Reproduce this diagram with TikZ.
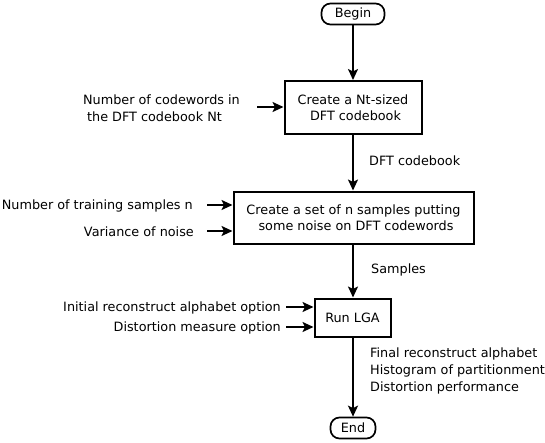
\documentclass[tikz,border=0pt]{standalone}
\usepackage{fontspec}
\setmainfont{DejaVu Sans}
\usetikzlibrary{arrows.meta,positioning}

\begin{document}
\begin{tikzpicture}[x=1pt, y=-1pt,
    font=\fontsize{12.8}{16.5}\selectfont,
    process/.style={draw, line width=2pt, inner sep=0pt, align=center},
    terminal/.style={draw, line width=1.7pt, rounded corners=9pt, inner sep=0pt},
    flow/.style={line width=2pt, -{Stealth[length=11pt, width=10pt, inset=2.5pt]}},
    input/.style={anchor=east, inner sep=0pt, align=left},
    output/.style={anchor=west, inner sep=0pt, align=left}]
    \useasboundingbox (0, 0) rectangle (545, 442);

    % Start and stop
    \node[terminal, minimum width=63pt, minimum height=21pt] (begin) at (353, 14) {Begin};
    \node[terminal, minimum width=45pt, minimum height=21pt] (end) at (353, 428) {End};

    % Processing steps
    \node[process, minimum width=137pt, minimum height=53pt] (codebook) at (353, 107.5)
        {Create a Nt-sized\\\hspace{5pt}DFT codebook};
    \node[process, minimum width=240pt, minimum height=52pt] (samples) at (353.5, 217.5)
        {Create a set of n samples putting\\\hspace{5pt}some noise on DFT codewords};
    \node[process, minimum width=76pt, minimum height=38pt] (lga) at (352.5, 317.5) {Run LGA};

    % Inputs on the left
    \node[input] (nt) at (240, 108) {Number of codewords in\\\hspace{4pt}the DFT codebook Nt};
    \node[input] (ntrain) at (193, 206) {Number of training samples n};
    \node[input] (noise) at (194, 232) {Variance of noise};
    \node[input] (alpha) at (281, 308) {Initial reconstruct alphabet option};
    \node[input] (dist) at (281, 328) {Distortion measure option};

    \coordinate (nt-out) at (257, 107);
    \coordinate (ntrain-out) at (207, 205);
    \coordinate (noise-out) at (207, 231);
    \coordinate (alpha-out) at (286, 307);
    \coordinate (dist-out) at (286, 327);

    \draw[flow] (nt-out) -- (codebook.west |- nt-out);
    \draw[flow] (ntrain-out) -- (samples.west |- ntrain-out);
    \draw[flow] (noise-out) -- (samples.west |- noise-out);
    \draw[flow] (alpha-out) -- (lga.west |- alpha-out);
    \draw[flow] (dist-out) -- (lga.west |- dist-out);

    % Main flow
    \draw[flow] (begin) -- (codebook);
    \draw[flow] (codebook) -- (samples.north -| codebook);
    \draw[flow] (samples.south -| codebook) -- (lga.north -| codebook);
    \draw[flow] (lga.south -| codebook) -- (end);

    % Outputs on the right
    \node[output] at (369, 161) {DFT codebook};
    \node[output] at (371, 270) {Samples};
    \node[output, font=\fontsize{12.8}{17}\selectfont] at (370, 371)
        {Final reconstruct alphabet\\Histogram of partitionment\\Distortion performance};
\end{tikzpicture}
\end{document}
